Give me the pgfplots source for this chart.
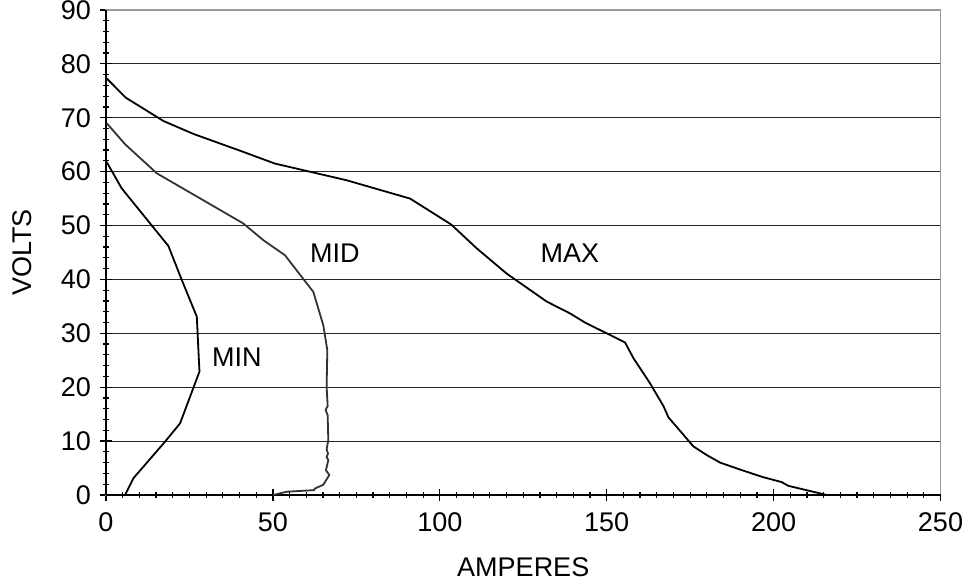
\documentclass[border=0pt]{standalone}
\usepackage{fontspec}
\setmainfont{Liberation Sans}
\usepackage{pgfplots}
\pgfplotsset{compat=1.18}
\begin{document}
\begin{tikzpicture}
\begin{axis}[
  name=ax,
  scale only axis,
  width=417.25pt, height=242.5pt,
  xmin=0, xmax=250, ymin=0, ymax=90,
  xtick distance=50, ytick distance=10,
  minor x tick num=9, minor y tick num=4,
  xtick pos=left, ytick pos=left,
  tick align=center,
  major tick length=6pt, minor tick length=3pt,
  every tick/.style={black, line width=0.6pt},
  ymajorgrids,
  major grid style={black!85, line width=0.55pt},
  axis line style={gray!80, line width=0.8pt},
  /pgf/number format/assume math mode=true,
  ticklabel style={font=\fontsize{13.5}{15}\selectfont},
  label style={font=\fontsize{13.5}{15}\selectfont},
  xticklabel style={yshift=-2.5pt},
  yticklabel style={xshift=-1pt},
  xlabel={AMPERES}, ylabel={VOLTS},
  xlabel style={at={(axis description cs:0.5,-0.1495)}, anchor=center},
  ylabel style={at={(axis description cs:-0.1,0.5)}, anchor=center},
  clip=false,
]
\draw[black, line width=0.8pt] (rel axis cs:0,0) -- (rel axis cs:0,1);
\draw[black, line width=0.8pt] (rel axis cs:0,0) -- (rel axis cs:1,0);
% MAX
\addplot[black, line width=0.9pt] coordinates {
(0.2,77.3) (6.0,73.7) (17.2,69.4) (26.2,67.0) (40.1,63.9) (50.6,61.5)
(72.1,58.4) (91.1,55.0) (103.4,50.2) (111,45.8) (120,41.1) (132,35.9)
(139,33.7) (143.5,32.0) (155.5,28.3) (158,25.4) (163,20.7) (167,16.5)
(168.5,14.4) (176,9.0) (180,7.4) (184,6.0) (191,4.5) (196.9,3.3)
(202.4,2.4) (204.4,1.7) (215.9,0)
};
% MID
\addplot[black!80, line width=0.9pt] coordinates {
(0.2,69.0) (5.7,65.1) (15.2,59.7) (41.1,50.4) (47.1,47.3) (53.6,44.5)
(62.1,37.7) (65.1,31.5) (66.3,26.9) (66.1,20.1) (66.4,16.5) (65.8,15.8)
(66.4,14.8) (66.6,10.2) (66.1,8.5) (66.5,7.7) (66.1,7.0) (66.6,6.5)
(65.9,4.6) (66.9,3.7) (65.1,1.9) (62.6,1.2) (62.3,0.9) (54.1,0.6) (50.1,0)
};
% MIN
\addplot[black, line width=0.9pt] coordinates {
(0.2,61.8) (4.7,56.9) (18.7,46.2) (22.7,39.9) (27.2,33.1) (28.0,22.9)
(22.2,13.3) (17.7,9.9) (8.2,3.1) (5.7,0)
};
\node[font=\fontsize{13.5}{15}\selectfont] at (axis cs:68.6,44.8) {MID};
\node[font=\fontsize{13.5}{15}\selectfont] at (axis cs:39.2,25.5) {MIN};
\node[font=\fontsize{13.5}{15}\selectfont] at (axis cs:139,44.8) {MAX};
\end{axis}
\pgfresetboundingbox
\path[use as bounding box] ([xshift=-53pt,yshift=-44.5pt]ax.south west) rectangle ([xshift=13.75pt,yshift=5pt]ax.north east);
\end{tikzpicture}
\end{document}
